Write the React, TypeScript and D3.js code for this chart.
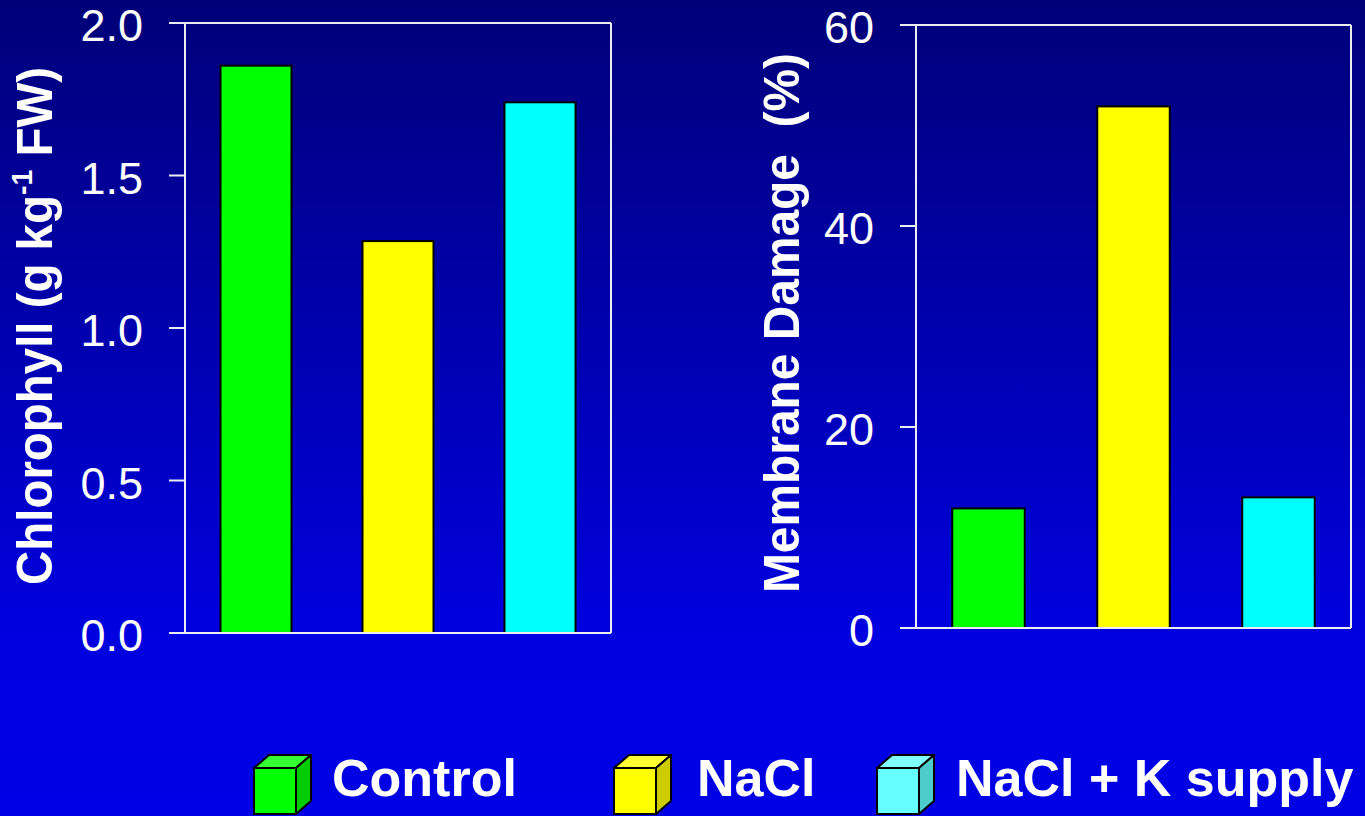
import React from "react";
import * as d3 from "d3";

const categories = ["Control", "NaCl", "NaCl + K supply"];
const chlorophyll = [1.86, 1.285, 1.74];
const membraneDamage = [11.9, 51.9, 13.0];
const chlTicks = [0, 0.5, 1.0, 1.5, 2.0];
const mdTicks = [0, 20, 40, 60];
const barColors = ["#00ff00", "#ffff00", "#00ffff"];
const cubeFront = ["#00ff00", "#ffff00", "#66ffff"];
const cubeTop = ["#33ff33", "#ffff33", "#80ffff"];
const cubeSide = ["#00cc00", "#cccc00", "#4dcccc"];
const legendCubeX = [254, 614, 877];
const legendTextX = [332, 697, 956];

const W = 1365;
const H = 816;
const FONT = "'Liberation Sans', Arial, sans-serif";
const AXIS = "#ececf4";

type PanelProps = {
  values: number[];
  ticks: number[];
  domain: [number, number];
  x0: number;
  x1: number;
  y0: number;
  y1: number;
  fmt: (v: number) => string;
};

function Panel({ values, ticks, domain, x0, x1, y0, y1, fmt }: PanelProps) {
  const y = d3.scaleLinear().domain(domain).range([y0, y1]);
  const x = d3
    .scaleBand<string>()
    .domain(categories)
    .range([x0, x1])
    .paddingInner(0.5)
    .paddingOuter(0.25);
  const tickLen = 16;
  return (
    <g>
      {categories.map((c, i) => (
        <rect
          key={c}
          x={x(c)}
          y={y(values[i])}
          width={x.bandwidth()}
          height={y(0) - y(values[i])}
          fill={barColors[i]}
          stroke="#000"
          strokeWidth={2}
        />
      ))}
      {/* frame */}
      <line x1={x0 - tickLen} x2={x1} y1={y0} y2={y0} stroke={AXIS} strokeWidth={2} />
      <line x1={x0 - tickLen} x2={x1} y1={y1} y2={y1} stroke={AXIS} strokeWidth={2} />
      <line x1={x0} x2={x0} y1={y1} y2={y0} stroke={AXIS} strokeWidth={2} />
      <line x1={x1} x2={x1} y1={y1} y2={y0} stroke={AXIS} strokeWidth={2} />
      {ticks.map((t) => (
        <g key={t}>
          <line x1={x0 - tickLen} x2={x0} y1={y(t)} y2={y(t)} stroke={AXIS} strokeWidth={2} />
          <text
            x={x0 - tickLen - 26}
            y={y(t) + 18}
            textAnchor="end"
            fill="#fff"
            fontSize={45}
            fontFamily={FONT}
          >
            {fmt(t)}
          </text>
        </g>
      ))}
    </g>
  );
}

export default function App() {
  const fmt1 = d3.format(".1f");
  const fmt0 = d3.format("d");
  return (
    <svg
      width={W}
      height={H}
      style={{ position: "absolute", left: 0, top: 0, display: "block" }}
    >
      <defs>
        <linearGradient id="bg" x1="0" y1="0" x2="0" y2="1">
          <stop offset="0" stopColor="#000078" />
          <stop offset="0.78" stopColor="#0000e0" />
          <stop offset="1" stopColor="#0000e6" />
        </linearGradient>
      </defs>
      <rect x={0} y={0} width={W} height={H} fill="url(#bg)" />

      <Panel
        values={chlorophyll}
        ticks={chlTicks}
        domain={[0, 2]}
        x0={185}
        x1={611}
        y0={633}
        y1={23}
        fmt={fmt1}
      />
      <Panel
        values={membraneDamage}
        ticks={mdTicks}
        domain={[0, 60]}
        x0={916}
        x1={1351}
        y0={628}
        y1={25}
        fmt={fmt0}
      />

      <text
        transform="translate(52,326) rotate(-90)"
        textAnchor="middle"
        fill="#fff"
        fontWeight="bold"
        fontSize={50}
        fontFamily={FONT}
        textLength={518}
        lengthAdjust="spacingAndGlyphs"
      >
        Chlorophyll (g kg
        <tspan fontSize={30} dy={-20}>-1</tspan>
        <tspan dy={20}> FW)</tspan>
      </text>
      <text
        transform="translate(799,323) rotate(-90)"
        textAnchor="middle"
        fill="#fff"
        fontWeight="bold"
        fontSize={50}
        fontFamily={FONT}
        textLength={540}
        lengthAdjust="spacingAndGlyphs"
        style={{ whiteSpace: "pre" }}
      >
        {"Membrane Damage  (%)"}
      </text>

      {categories.map((c, i) => {
        const fx = legendCubeX[i];
        const fy = 768;
        const fw = 42;
        const fh = 46;
        const dx = 15;
        const dy = 13;
        return (
          <g key={c}>
            <rect x={fx} y={fy} width={fw} height={fh} fill={cubeFront[i]} stroke="#000" strokeWidth={2} />
            <polygon
              points={`${fx},${fy} ${fx + dx},${fy - dy} ${fx + fw + dx},${fy - dy} ${fx + fw},${fy}`}
              fill={cubeTop[i]}
              stroke="#000"
              strokeWidth={2}
              strokeLinejoin="round"
            />
            <polygon
              points={`${fx + fw},${fy} ${fx + fw + dx},${fy - dy} ${fx + fw + dx},${fy + fh - dy} ${fx + fw},${fy + fh}`}
              fill={cubeSide[i]}
              stroke="#000"
              strokeWidth={2}
              strokeLinejoin="round"
            />
            <text
              x={legendTextX[i]}
              y={796}
              fill="#fff"
              fontWeight="bold"
              fontSize={52}
              fontFamily={FONT}
            >
              {c}
            </text>
          </g>
        );
      })}
    </svg>
  );
}
